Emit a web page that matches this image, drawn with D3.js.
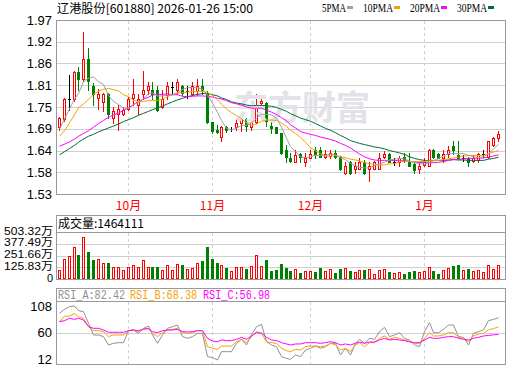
<!DOCTYPE html>
<html>
<head>
<meta charset="utf-8">
<title>辽港股份 K线</title>
<script src="https://cdn.jsdelivr.net/npm/d3@7/dist/d3.min.js"></script>
<style>
  body { margin: 0; background: #fff; }
  text { font-family: "Liberation Sans", "Noto Sans CJK SC", sans-serif; }
</style>
</head>
<body>
<svg id="chart" width="520" height="365"></svg>
<script>
// ---- data ----
var stockName = '辽港股份', stockCode = '601880', stamp = '2026-01-26 15:00';

var open = [1.699,1.72,1.771,1.769,1.839,1.82,1.871,1.803,1.773,1.763,
  1.782,1.722,1.733,1.733,1.744,1.772,1.754,1.784,1.793,1.793,
  1.793,1.75,1.78,1.801,1.793,1.803,1.791,1.782,1.791,1.803,
  1.785,1.711,1.693,1.675,1.699,1.695,1.699,1.71,1.72,1.70,
  1.712,1.761,1.761,1.701,1.699,1.683,1.642,1.622,1.612,1.632,
  1.612,1.622,1.642,1.641,1.624,1.626,1.634,1.623,1.582,1.612,
  1.592,1.593,1.612,1.592,1.593,1.593,1.624,1.632,1.612,1.612,
  1.624,1.612,1.606,1.592,1.604,1.602,1.642,1.632,1.622,1.632,
  1.652,1.629,1.622,1.622,1.614,1.615,1.632,1.624,1.654,1.671];
var high = [1.724,1.772,1.83,1.841,1.851,1.94,1.90,1.811,1.796,1.786,
  1.786,1.75,1.756,1.75,1.776,1.82,1.783,1.841,1.813,1.813,
  1.803,1.794,1.813,1.813,1.82,1.805,1.803,1.813,1.82,1.82,
  1.79,1.713,1.705,1.703,1.703,1.70,1.72,1.725,1.722,1.727,
  1.782,1.771,1.763,1.714,1.70,1.685,1.654,1.634,1.642,1.633,
  1.633,1.641,1.65,1.65,1.642,1.642,1.642,1.625,1.612,1.614,
  1.612,1.62,1.617,1.612,1.613,1.633,1.64,1.634,1.622,1.627,
  1.634,1.633,1.612,1.612,1.622,1.643,1.643,1.634,1.642,1.652,
  1.663,1.663,1.628,1.623,1.628,1.633,1.642,1.664,1.675,1.69];
var low = [1.693,1.715,1.742,1.765,1.792,1.816,1.792,1.756,1.744,1.74,
  1.722,1.71,1.691,1.731,1.742,1.756,1.733,1.769,1.784,1.769,
  1.74,1.748,1.769,1.784,1.784,1.78,1.773,1.78,1.78,1.784,
  1.71,1.684,1.683,1.663,1.688,1.69,1.693,1.69,1.69,1.692,
  1.71,1.75,1.701,1.684,1.683,1.632,1.612,1.611,1.611,1.612,
  1.602,1.62,1.62,1.623,1.622,1.622,1.622,1.591,1.581,1.58,
  1.582,1.592,1.58,1.564,1.592,1.592,1.622,1.61,1.603,1.602,
  1.61,1.601,1.582,1.582,1.602,1.601,1.622,1.62,1.612,1.624,
  1.632,1.621,1.614,1.602,1.61,1.61,1.624,1.622,1.651,1.664];
var close = [1.721,1.77,1.771,1.839,1.82,1.871,1.816,1.782,1.782,1.782,
  1.733,1.739,1.744,1.742,1.771,1.782,1.769,1.793,1.803,1.784,
  1.742,1.769,1.803,1.801,1.813,1.785,1.791,1.803,1.803,1.792,
  1.712,1.689,1.686,1.699,1.693,1.695,1.71,1.72,1.703,1.72,
  1.751,1.765,1.714,1.698,1.684,1.634,1.623,1.613,1.629,1.623,
  1.622,1.632,1.632,1.624,1.632,1.634,1.624,1.593,1.602,1.583,
  1.602,1.612,1.582,1.602,1.612,1.622,1.632,1.612,1.612,1.622,
  1.617,1.602,1.591,1.602,1.612,1.642,1.624,1.622,1.632,1.642,
  1.642,1.622,1.622,1.612,1.622,1.632,1.632,1.663,1.671,1.682];

var ma5 = [1.693,1.72,1.745,1.77,1.784,1.814,1.823,1.826,1.814,1.807,
  1.779,1.764,1.756,1.748,1.746,1.756,1.762,1.771,1.784,1.786,
  1.778,1.778,1.780,1.780,1.786,1.794,1.799,1.799,1.799,1.795,
  1.780,1.760,1.736,1.716,1.696,1.692,1.697,1.703,1.704,1.710,
  1.721,1.732,1.731,1.730,1.722,1.699,1.671,1.650,1.637,1.624,
  1.622,1.624,1.628,1.627,1.628,1.631,1.629,1.621,1.617,1.607,
  1.601,1.598,1.596,1.596,1.602,1.606,1.610,1.616,1.618,1.620,
  1.619,1.613,1.609,1.607,1.605,1.610,1.614,1.620,1.626,1.632,
  1.632,1.632,1.632,1.628,1.624,1.622,1.624,1.632,1.644,1.656];
var ma10 = [1.676,1.69,1.71,1.73,1.748,1.758,1.769,1.782,1.79,1.795,
  1.797,1.794,1.791,1.781,1.776,1.767,1.763,1.764,1.766,1.766,
  1.767,1.770,1.776,1.782,1.786,1.786,1.788,1.789,1.789,1.790,
  1.787,1.779,1.768,1.757,1.745,1.736,1.728,1.720,1.710,1.703,
  1.707,1.714,1.717,1.717,1.716,1.710,1.701,1.691,1.683,1.673,
  1.661,1.647,1.639,1.632,1.626,1.626,1.627,1.625,1.622,1.618,
  1.616,1.614,1.609,1.607,1.605,1.603,1.604,1.606,1.607,1.611,
  1.613,1.612,1.612,1.612,1.612,1.614,1.614,1.615,1.617,1.619,
  1.621,1.623,1.626,1.627,1.628,1.627,1.628,1.632,1.636,1.640];
var ma20 = [1.651,1.656,1.662,1.669,1.676,1.683,1.69,1.699,1.708,1.716,
  1.724,1.73,1.735,1.741,1.748,1.756,1.764,1.77,1.775,1.780,
  1.782,1.782,1.783,1.781,1.781,1.777,1.776,1.777,1.778,1.778,
  1.777,1.775,1.772,1.770,1.766,1.761,1.758,1.755,1.750,1.747,
  1.747,1.747,1.742,1.737,1.731,1.723,1.715,1.705,1.697,1.688,
  1.684,1.681,1.678,1.674,1.671,1.668,1.664,1.658,1.653,1.646,
  1.638,1.631,1.624,1.619,1.616,1.615,1.615,1.615,1.615,1.614,
  1.614,1.613,1.611,1.610,1.609,1.609,1.609,1.610,1.612,1.615,
  1.617,1.617,1.619,1.620,1.620,1.621,1.621,1.623,1.626,1.629];
var ma30 = [1.629,1.637,1.645,1.653,1.661,1.669,1.676,1.681,1.687,1.692,
  1.697,1.702,1.707,1.713,1.718,1.723,1.729,1.734,1.739,1.743,
  1.748,1.752,1.758,1.763,1.768,1.772,1.776,1.779,1.782,1.784,
  1.784,1.781,1.778,1.773,1.769,1.763,1.760,1.758,1.755,1.753,
  1.754,1.754,1.753,1.752,1.749,1.744,1.739,1.733,1.728,1.722,
  1.718,1.714,1.708,1.702,1.696,1.691,1.685,1.678,1.672,1.665,
  1.661,1.658,1.655,1.652,1.649,1.647,1.644,1.640,1.637,1.634,
  1.630,1.624,1.620,1.617,1.615,1.615,1.615,1.615,1.615,1.616,
  1.617,1.616,1.616,1.615,1.615,1.615,1.615,1.618,1.620,1.623];

// volume, in 万
var volume = [96,211,246,339,257,446,289,203,211,168,
  168,125,132,96,132,146,125,200,132,132,
  125,96,146,96,160,146,110,118,168,193,
  339,214,171,146,118,86,125,125,107,136,
  253,139,203,86,96,160,118,86,104,64,
  86,86,71,114,86,104,64,107,114,86,
  71,96,96,107,54,96,104,71,64,71,
  54,75,86,75,86,125,86,54,96,118,
  136,150,96,107,86,96,75,146,104,146.4111];

var rsiA = [89.2,95.3,99.4,100.4,93.3,91.8,74,56.2,56.2,53.7,
  41,43.5,44.5,44.5,62.8,63.8,58.7,66.4,69.9,56.2,
  43.5,56.2,66.4,68.9,71.4,53.7,51.2,53.7,58.7,58.7,
  23.2,21.6,18.1,30.8,30.8,30.8,43.5,49.6,41,56.2,
  68.9,72.4,46,41,38.4,23.2,20.6,19.1,25.7,23.2,
  33.3,35.9,39.4,35.9,38.4,43.5,43.5,25.7,35.9,25.7,
  43.5,49.6,43.5,51.1,49.6,61.3,67.9,53.7,56.2,59.7,
  51.1,48.6,41,38.4,61.3,75,59.7,59.7,64.8,71.4,
  71.4,53.7,52.6,41,58.7,61.3,63.8,78,80,82.42];
var rsiB = [76.5,85,85,89,84,81.6,69,62.8,62.8,61.3,
  53.7,56.2,56.2,56.2,62.8,63.8,61.3,64.8,66.4,58.7,
  53.7,59.7,63.8,64.8,66.4,59.7,58.7,59.7,62.8,62.8,
  38.4,35.9,34.3,39.4,39.4,39.4,46,49.6,44.5,53.7,
  61.3,58.2,46,44.5,43.5,35.9,32.3,30.8,34.3,33.3,
  38.4,39.4,39.4,38.4,39.4,43.5,41,33.3,35.9,30.8,
  41,44.5,38.4,44.5,44.5,51.1,54.7,49.6,52.6,51.1,
  48.6,46,43.5,43.5,51.1,59.7,54.7,54.7,56.2,59.7,
  59.7,52.6,51.1,46,54.7,57.7,58.7,64,66,68.38];
var rsiC = [76.5,78,81.6,80,81.6,79,69,66.4,66.4,63.8,
  60.3,60.3,60.3,60.3,62.8,63.8,62.8,65.3,65.8,61.3,
  59.7,62.8,63.8,63.8,64.8,61.3,60.8,61.3,62.8,62.8,
  51.1,47,46,48.6,47.6,47.6,49.6,52.6,49.6,54.7,
  59.7,59.2,52.6,48.6,47.6,44.5,42.5,41,42.5,42.5,
  44.5,44.5,44.5,43.5,44.5,46,44.5,41,42.5,41,
  43.5,45.5,43.5,45.5,45.5,48.6,51.1,48.6,49.6,48.6,
  47.6,46,44.5,44.5,48.6,52.6,51.1,51.1,52.6,53.7,
  53.7,51.1,49.6,48.6,51.1,52.6,54.7,55.5,56.5,56.98];

// first trading day of each month (index into the arrays)
var monthStart = [14, 31, 51, 74];
var monthLabels = ['10月', '11月', '12月', '1月'];

var priceTicks = [1.97, 1.915, 1.86, 1.805, 1.75, 1.695, 1.64, 1.585, 1.53];
var priceTickLabels = ['1.97', '1.92', '1.86', '1.81', '1.75', '1.69', '1.64', '1.58', '1.53'];
var volTicks = [503.32, 377.49, 251.66, 125.83, 0];
var volTickLabels = ['503.32万', '377.49万', '251.66万', '125.83万', '0'];
var rsiTicks = [108, 60, 12];

var maNames = ['5PMA', '10PMA', '20PMA', '30PMA'];

// ---- drawing ----
var upColor = '#ff0000', downColor = '#008000', flatColor = '#000000';
var frameColor = '#999999', gridColor = '#d0d0d0';
var maColors = ['#a0a0a0', '#f5a300', '#ff00ff', '#006b35'];
var rsiColors = ['#909090', '#f5a300', '#ff00ff'];

var svg = d3.select('#chart');
var L = 56, R = 505;

var x = d3.scaleBand().domain(d3.range(close.length)).range([56.8, 500.5]);
var half = x.bandwidth() / 2;
function col(i) { return Math.floor(x(i) + half); }

var yPrice = d3.scaleLinear().domain([1.53, 1.97]).range([194, 20]);
var yVol = d3.scaleLinear().domain([0, 503.32]).range([279, 232]);
var yRsi = d3.scaleLinear().domain([12, 108]).range([364, 301]);

function hline(g, y, color, dash) {
  g.append('line').attr('x1', L).attr('x2', R).attr('y1', Math.round(y) + 0.5).attr('y2', Math.round(y) + 0.5)
    .attr('stroke', color).attr('stroke-dasharray', dash || null);
}
function vgrid(g, y0, y1) {
  monthStart.forEach(function(i) {
    g.append('line').attr('x1', col(i) + 0.5).attr('x2', col(i) + 0.5).attr('y1', y0).attr('y2', y1)
      .attr('stroke', gridColor).attr('stroke-dasharray', '3,3');
  });
}
function frame(g, y0, y1) {
  g.append('rect').attr('x', L + 0.5).attr('y', y0 + 0.5).attr('width', R - L).attr('height', y1 - y0)
    .attr('fill', 'none').attr('stroke', frameColor);
}

var crisp = svg.append('g').attr('shape-rendering', 'crispEdges');

// watermark
svg.append('text').attr('x', 234).attr('y', 120).text('东方财富')
  .style('font-family', '"Noto Sans CJK SC"').style('font-size', '34px').style('font-weight', 'bold')
  .attr('fill', '#e2e2e8');

// title + legend
svg.append('text').attr('x', 57).attr('y', 13).attr('textLength', 196).attr('lengthAdjust', 'spacingAndGlyphs')
  .style('font-family', '"Noto Sans CJK SC"').style('font-size', '12px')
  .text(stockName + '[' + stockCode + '] ' + stamp);

var cursor = 322;
maNames.forEach(function(name, k) {
  var w = name.length * 6;
  svg.append('text').attr('x', cursor).attr('y', 12).attr('textLength', w).attr('lengthAdjust', 'spacingAndGlyphs')
    .style('font-family', '"Liberation Serif"').style('font-size', '12.5px').text(name);
  cursor += w + 1;
  crisp.append('rect').attr('x', cursor).attr('y', 6).attr('width', 6).attr('height', 3).attr('fill', maColors[k]);
  cursor += 16;
});

// price panel
priceTicks.forEach(function(t, k) {
  if (k > 0 && k < priceTicks.length - 1) hline(crisp, yPrice(t), gridColor);
  svg.append('text').attr('x', 52).attr('y', yPrice(t) + 4.5).attr('text-anchor', 'end')
    .style('font-size', '13px').text(priceTickLabels[k]);
});
vgrid(crisp, 21, 194);

var ma = [ma5, ma10, ma20, ma30];
var line = d3.line().x(function(d, i) { return col(i) + 0.5; });
ma.slice().reverse().forEach(function(series, k) {
  var idx = ma.length - 1 - k;
  svg.append('path').attr('d', line.y(function(v) { return yPrice(v); })(series))
    .attr('fill', 'none').attr('stroke', maColors[idx]).attr('stroke-width', 1);
});

var candles = crisp.append('g');
close.forEach(function(c, i) {
  var o = open[i], cx = col(i);
  var yo = Math.round(yPrice(o)), yc = Math.round(yPrice(c));
  var yh = Math.round(yPrice(high[i])), yl = Math.round(yPrice(low[i]));
  var top = Math.min(yo, yc), bot = Math.max(yo, yc);
  if (c > o) {
    candles.append('line').attr('x1', cx + 0.5).attr('x2', cx + 0.5).attr('y1', yh).attr('y2', top).attr('stroke', upColor);
    candles.append('line').attr('x1', cx + 0.5).attr('x2', cx + 0.5).attr('y1', bot).attr('y2', yl + 1).attr('stroke', upColor);
    candles.append('rect').attr('x', cx - 0.5).attr('y', top + 0.5).attr('width', 2).attr('height', Math.max(1, bot - top))
      .attr('fill', '#fff').attr('stroke', upColor);
  } else if (c < o) {
    candles.append('line').attr('x1', cx + 0.5).attr('x2', cx + 0.5).attr('y1', yh).attr('y2', yl + 1).attr('stroke', downColor);
    candles.append('rect').attr('x', cx - 1).attr('y', top).attr('width', 3).attr('height', Math.max(1, bot - top + 1))
      .attr('fill', downColor);
  } else {
    candles.append('line').attr('x1', cx + 0.5).attr('x2', cx + 0.5).attr('y1', yh).attr('y2', yl + 1).attr('stroke', flatColor);
    candles.append('line').attr('x1', cx - 1).attr('x2', cx + 2).attr('y1', yc + 0.5).attr('y2', yc + 0.5).attr('stroke', flatColor);
  }
});
frame(crisp, 20, 194);

// month labels
monthStart.forEach(function(i, k) {
  svg.append('text').attr('x', col(i) + 0.5).attr('y', 210).attr('text-anchor', 'middle')
    .style('font-family', '"Noto Sans CJK SC"').style('font-size', '12px').attr('fill', '#ff0000').text(monthLabels[k]);
});

// volume panel
volTicks.forEach(function(t, k) {
  if (t > 0 && t < 503.32) hline(crisp, yVol(t), gridColor);
  var lab = svg.append('text').attr('x', 53).attr('y', yVol(t) + 2.5).attr('text-anchor', 'end')
    .style('font-size', '11px').text(volTickLabels[k]);
  if (t > 0) lab.attr('textLength', 49).attr('lengthAdjust', 'spacingAndGlyphs');
});
vgrid(crisp, 233, 279);
var vbars = crisp.append('g');
volume.forEach(function(v, i) {
  var cx = col(i), yt = Math.round(yVol(v));
  if (close[i] >= open[i]) {
    vbars.append('rect').attr('x', cx - 0.5).attr('y', yt + 0.5).attr('width', 2).attr('height', 279 - yt - 1)
      .attr('fill', '#fff').attr('stroke', upColor);
  } else {
    vbars.append('rect').attr('x', cx - 1).attr('y', yt).attr('width', 3).attr('height', 279 - yt).attr('fill', downColor);
  }
});
frame(crisp, 215, 279);
hline(crisp, 232, frameColor);
svg.append('text').attr('x', 58).attr('y', 228).style('font-family', '"Noto Sans CJK SC"').style('font-size', '12px')
  .text('成交量:' + Math.round(volume[volume.length - 1] * 10000));

// RSI panel
hline(crisp, yRsi(60), gridColor);
vgrid(crisp, 302, 364);
rsiTicks.forEach(function(t) {
  var yy = Math.max(306, Math.min(359, yRsi(t)));
  svg.append('text').attr('x', 52).attr('y', yy + 4.5).attr('text-anchor', 'end')
    .style('font-size', '13px').text(t);
});
var rsiLine = d3.line().x(function(d, i) { return col(i) + 0.5; }).y(function(v) { return yRsi(v); });
[rsiA, rsiB, rsiC].forEach(function(series, k) {
  svg.append('path').attr('d', rsiLine(series)).attr('fill', 'none').attr('stroke', rsiColors[k]).attr('stroke-width', 1);
});
frame(crisp, 288, 364);
hline(crisp, 301, frameColor);

var rsiNames = ['RSI_A', 'RSI_B', 'RSI_C'], rsiX = [58, 130, 203];
[rsiA, rsiB, rsiC].forEach(function(series, k) {
  var label = rsiNames[k] + ':' + series[series.length - 1].toFixed(2);
  svg.append('text').attr('x', rsiX[k]).attr('y', 298.5).attr('textLength', label.length * 6.1).attr('lengthAdjust', 'spacingAndGlyphs')
    .style('font-family', '"Liberation Mono"').style('font-size', '12px').attr('fill', rsiColors[k]).text(label);
});
</script>
</body>
</html>
